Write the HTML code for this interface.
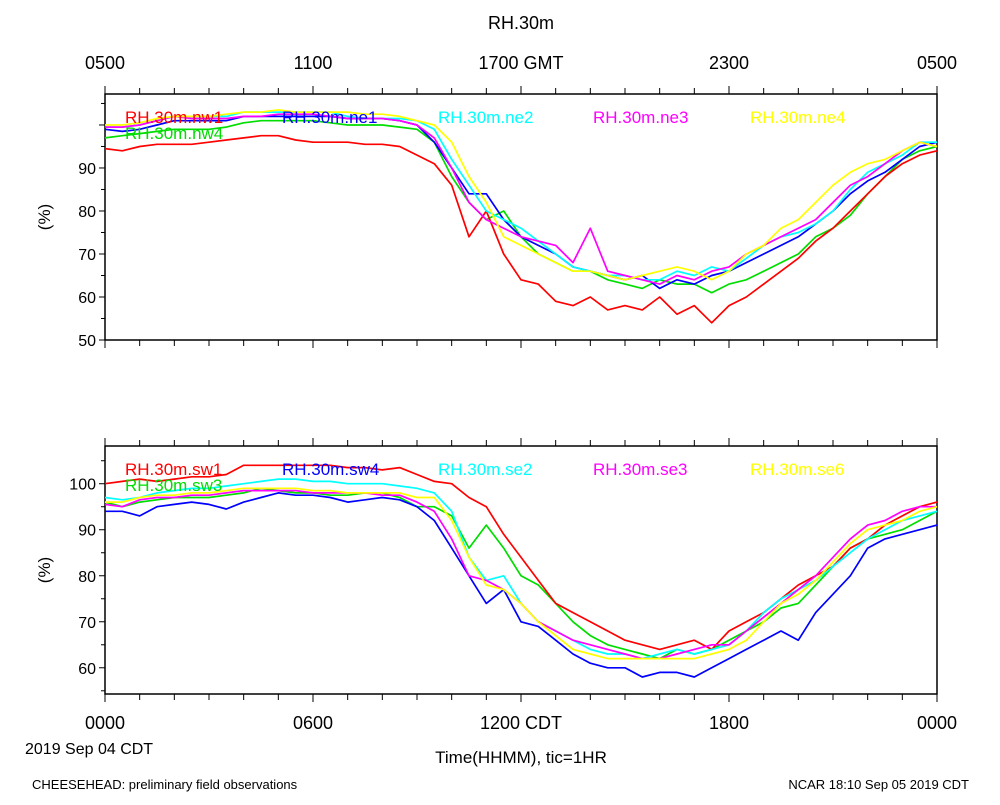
<!DOCTYPE html>
<html><head><meta charset="utf-8"><style>
body{margin:0;background:#fff}
svg text{font-family:"Liberation Sans",sans-serif;fill:#000}
</style></head><body>
<svg id="c" width="1000" height="800" xmlns="http://www.w3.org/2000/svg">
<text x="521" y="29" font-size="18" text-anchor="middle">RH.30m</text>
<text x="25" y="754" font-size="16">2019 Sep 04 CDT</text>
<text x="521" y="763" font-size="17" text-anchor="middle">Time(HHMM), tic=1HR</text>
<text x="32" y="789" font-size="13">CHEESEHEAD: preliminary field observations</text>
<text x="969" y="789" font-size="13" text-anchor="end">NCAR 18:10 Sep 05 2019 CDT</text>
</svg>
<script>
const topTickLabels=["0500","1100","1700 GMT","2300","0500"];
const botTickLabels=["0000","0600","1200 CDT","1800","0000"];
const p1Ticks=[50,60,70,80,90];
const p2Ticks=[60,70,80,90,100];
const p1Names=["RH.30m.nw1","RH.30m.ne1","RH.30m.ne2","RH.30m.ne3","RH.30m.ne4","RH.30m.nw4"];
const p2Names=["RH.30m.sw1","RH.30m.sw4","RH.30m.se2","RH.30m.se3","RH.30m.se6","RH.30m.sw3"];
const colors=["#ff0000","#0000ff","#00ffff","#ff00ff","#ffff00","#00dd00"];
const nw1=[94.5,94,95,95.5,95.5,95.5,96,96.5,97,97.5,97.5,96.5,96,96,96,95.5,95.5,95,93,91,86,74,80,70,64,63,59,58,60,57,58,57,60,56,58,54,58,60,63,66,69,73,76,80,84,88,91,93,94];
const ne1=[99,98.5,99,100,101,101,101,101,102,102,102,102,102,102,101.5,101.5,101.5,101,100,96,90,84,84,78,74,72,70,67,66,65,64,65,62,64,63,65,66,68,70,72,74,77,80,84,87,89,92,95,96];
const ne2=[99.5,99.5,100,101,102,102,102,102,103,103,103,103,103,103,102,101.5,101.5,101.5,101,99,92,86,80,78,76,73,70,67,66,65,65,64,64,66,65,67,66,69,72,74,75,77,80,85,89,91,93,96,96];
const ne3=[99.5,99.5,100,101,102,101.5,101.5,101.5,102,102,102.5,102.5,102.5,102,101.5,101.5,101.5,101,100,97,90,82,78,76,74,73,72,68,76,66,65,64,63,65,64,66,67,70,72,74,76,78,82,86,88,91,94,96,95];
const ne4=[100,100,100.5,101.5,102,102,102,102.5,103,103,103.5,103,103,103,103,102.5,102.5,102,101,100,96,88,82,74,72,70,68,66,66,65,64,65,66,67,66,64,66,70,72,76,78,82,86,89,91,92,94,96,95];
const nw4=[97,97.5,98,98.5,99,99,99,99.5,100.5,101,101,101,101,100.5,100,100,100,99.5,99,96,88,82,78,80,74,70,68,66,66,64,63,62,64,63,63,61,63,64,66,68,70,74,76,79,84,88,92,94,95];
const sw1=[100,100.5,101,100.5,101,101.5,101.5,102,104,104,104,104,104,104,103.5,103.5,103,103.5,102,100.5,100,97,95,89,84,79,74,72,70,68,66,65,64,65,66,64,68,70,72,75,78,80,82,86,88,91,93,95,96];
const sw4=[94,94,93,95,95.5,96,95.5,94.5,96,97,98,97.5,97.5,97,96,96.5,97,96.5,95,92,86,80,74,77,70,69,66,63,61,60,60,58,59,59,58,60,62,64,66,68,66,72,76,80,86,88,89,90,91];
const se2=[97,96.5,97,98,98.5,99,99,99.5,100,100.5,101,101,100.5,100.5,100,100,100,99.5,99,98,94,84,79,80,74,70,68,66,64,63,63,62,63,64,63,64,65,68,72,75,77,79,82,85,88,90,92,93,94];
const se3=[95.5,95,96.5,97,97,97.5,97.5,98,98.5,98.5,98.5,98.5,98,98,98,98,97.5,97.5,96,94,88,80,79,77,74,70,68,66,65,64,63,62,62,63,64,65,65,68,71,74,77,80,84,88,91,92,94,95,95];
const se6=[96,96,97,97.5,97.5,98,98,98.5,99,99,99,99,98.5,98.5,98,98,98,98,97,97,92,84,78,77,74,70,67,64,63,62,62,62,62,62,62,63,64,66,70,74,76,79,83,87,90,91,92,94,95];
const sw3=[96,95,96,96.5,97,97,97,97.5,98,99,98.5,98,98,97.5,97.5,98,98,97,95,95,93,86,91,86,80,78,74,70,67,65,64,63,62,64,63,64,66,68,70,73,74,78,82,86,88,89,90,92,94];
const p1Series=[nw1,ne1,ne2,ne3,ne4,nw4];
const p2Series=[sw1,sw4,se2,se3,se6,sw3];
const svg=document.getElementById('c');
const NS="http://www.w3.org/2000/svg";
const X0=105,X1=937;
function mk(tag,attrs){const e=document.createElementNS(NS,tag);for(const k in attrs)e.setAttribute(k,attrs[k]);svg.appendChild(e);return e;}
function xs(h){return X0+(X1-X0)*h/24;}
function panel(top,bot,vmin,vmax,ticks,names,series,pname,topLabels,botLabels){
  const ys=v=>bot-(v-vmin)/(vmax-vmin)*(bot-top);
  const fr=mk('rect',{x:X0,y:top,width:X1-X0,height:bot-top,fill:'none',stroke:'#000','stroke-width':1.5});
  
  
  for(let h=0;h<=24;h++){
    const L=(h%6===0)?8:6;
    const t1=mk('line',{x1:xs(h),x2:xs(h),y1:top,y2:top-L,stroke:'#000','stroke-width':1});
    
    
    const t2=mk('line',{x1:xs(h),x2:xs(h),y1:bot,y2:bot+L,stroke:'#000','stroke-width':1});
    
    
  }
  for(let v=Math.ceil(vmin/5)*5;v<=vmax;v+=5){
    const t=mk('line',{x1:X0,x2:X0-(v%10===0?6:4),y1:ys(v),y2:ys(v),stroke:'#000','stroke-width':1});
    
    
  }
  ticks.forEach(v=>{const t=mk('text',{x:X0-9,y:ys(v)+6,'font-size':16,'text-anchor':'end'});t.textContent=v;
    
    });
  const yt=mk('text',{x:0,y:0,'font-size':17,'text-anchor':'middle',transform:`translate(50,${(top+bot)/2}) rotate(-90)`});
  yt.textContent='(%)';
  
  
  if(topLabels)topLabels.forEach((s,i)=>{const t=mk('text',{x:xs(i*6),y:69,'font-size':18,'text-anchor':'middle'});t.textContent=s;
    
    });
  if(botLabels)botLabels.forEach((s,i)=>{const t=mk('text',{x:xs(i*6),y:729,'font-size':18,'text-anchor':'middle'});t.textContent=s;
    
    });
  const order=[5,0,1,2,3,4];
  order.forEach(i=>{
    const d=series[i].map((v,k)=>(k?'L':'M')+xs(k*0.5).toFixed(1)+','+ys(v).toFixed(1)).join('');
    const p=mk('path',{d:d,fill:'none',stroke:colors[i],'stroke-width':1.7,'stroke-linejoin':'round'});
    
    
  });
  const lx=[125,282,438,593,750,125];
  names.forEach((n,i)=>{
    const t=mk('text',{x:lx[i],y:top+(i<5?29:45),'font-size':17});
    t.style.fill=colors[i];t.textContent=n;
    
    
  });
}
panel(94,340,50,107.2,p1Ticks,p1Names,p1Series,'top-panel',topTickLabels,null);
panel(446,694,54.3,108.2,p2Ticks,p2Names,p2Series,'bottom-panel',null,botTickLabels);
</script>
</body></html>
